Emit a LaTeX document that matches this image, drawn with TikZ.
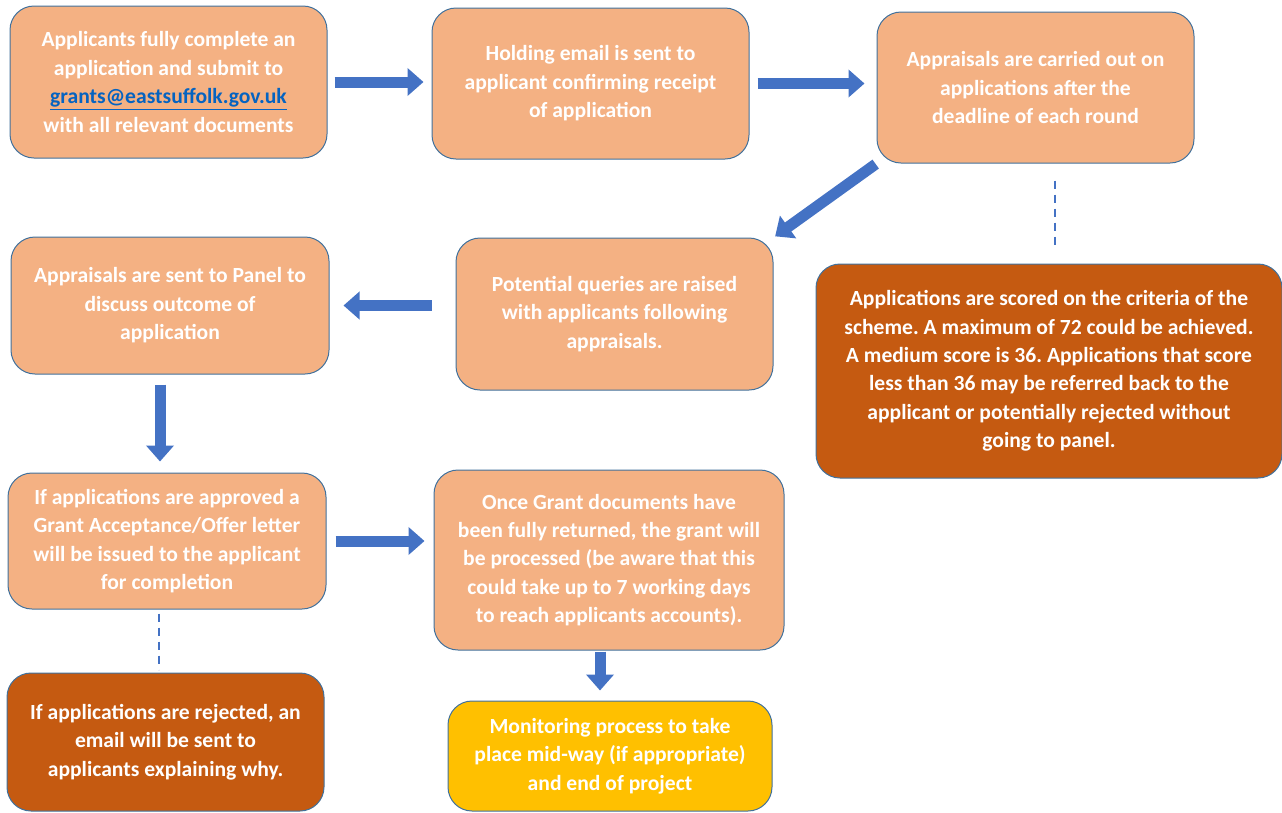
\documentclass[tikz,border=0pt]{standalone}
\usepackage{fontspec}
\setmainfont{Carlito}
\usetikzlibrary{arrows.meta}
\definecolor{salmon}{HTML}{F4B183}
\definecolor{rust}{HTML}{C55A11}
\definecolor{amber}{HTML}{FFC000}
\definecolor{edge}{HTML}{41719C}
\definecolor{flowblue}{HTML}{4472C4}
\definecolor{mailblue}{HTML}{0563C1}
\frenchspacing
\tikzset{
  stage/.style={draw=edge, line width=1pt, fill=salmon, rounded corners=24pt,
    text=white, font=\bfseries\fontsize{21.6}{28.4}\selectfont,
    align=center, inner sep=0pt},
  alert/.style={stage, fill=rust},
  final/.style={stage, fill=amber},
  flow/.style={draw=flowblue, line width=11pt, -{Triangle[width=27pt,length=16pt]}},
  link/.style={draw=flowblue, line width=2.6pt, dash pattern=on 8pt off 6pt},
}
\begin{document}
\begin{tikzpicture}[x=1pt,y=-1pt]
  \useasboundingbox (0,0) rectangle (1282,812);
  % top row
  \node[stage, minimum width=317pt, minimum height=152pt] (apply) at (168.5,82)
    {Applicants fully complete an\\application and submit to\\
     \textcolor{mailblue}{\underline{grants@eastsuffolk.gov.uk}}\\with all relevant documents};
  \node[stage, minimum width=317pt, minimum height=151pt] (hold) at (590.5,83.5)
    {Holding email is sent to\\applicant confirming receipt\\of application};
  \node[stage, minimum width=317pt, minimum height=151pt] (appraise) at (1035.5,87.5)
    {Appraisals are carried out on\\applications after the\\deadline of each round};
  % middle row
  \node[stage, minimum width=318pt, minimum height=137pt] (panel) at (170,305.5)
    {Appraisals are sent to Panel to\\discuss outcome of\\application};
  \node[stage, minimum width=317pt, minimum height=152pt] (queries) at (614.5,314)
    {Potential queries are raised\\with applicants following\\appraisals.};
  \node[alert, minimum width=466pt, minimum height=214pt] (score) at (1049,371)
    {Applications are scored on the criteria of the\\scheme. A maximum of 72 could be achieved.\\
     A medium score is 36. Applications that score\\less than 36 may be referred back to the\\
     applicant or potentially rejected without\\going to panel.};
  % bottom rows
  \node[stage, minimum width=318pt, minimum height=136pt] (approve) at (167,541)
    {If applications are approved a\\Grant Acceptance/Offer letter\\will be issued to the applicant\\for completion};
  \node[stage, minimum width=350pt, minimum height=180pt] (process) at (609,560)
    {Once Grant documents have\\been fully returned, the grant will\\be processed (be aware that this\\
     could take up to 7 working days\\to reach applicants accounts).};
  \node[alert, minimum width=317pt, minimum height=138pt] (reject) at (165.5,742)
    {If applications are rejected, an\\email will be sent to\\applicants explaining why.};
  \node[final, minimum width=324pt, minimum height=110pt] (monitor) at (610,756)
    {Monitoring process to take\\place mid-way (if appropriate)\\and end of project};
  % arrows
  \draw[flow, shorten <=7pt, shorten >=8pt] (apply.east) -- (apply.east -| hold.west);
  \draw[flow, shorten <=8pt, shorten >=12pt] (hold.east) -- (hold.east -| appraise.west);
  \draw[flow, shorten <=1pt, shorten >=2pt] (appraise.south west) -- (queries.north east);
  \draw[flow, shorten <=24pt, shorten >=14pt] (queries.west |- panel.east) -- (panel.east);
  \draw[flow, shorten <=10pt, shorten >=11pt] ([xshift=-10pt]panel.south) -- ([xshift=-10pt]panel.south |- approve.north);
  \draw[flow, shorten <=9pt, shorten >=9pt] (approve.east) -- (approve.east -| process.west);
  \draw[flow, shorten <=1pt, shorten >=10pt] ([xshift=-9pt]process.south) -- ([xshift=-9pt]process.south |- monitor.north);
  % dashed links
  \draw[link, shorten <=17pt, shorten >=19pt] ([xshift=6pt]score.north |- appraise.south) -- ([xshift=6pt]score.north);
  \draw[link, shorten <=4pt, shorten >=3pt] ([xshift=-8pt]approve.south) -- ([xshift=-8pt]approve.south |- reject.north);
\end{tikzpicture}
\end{document}
